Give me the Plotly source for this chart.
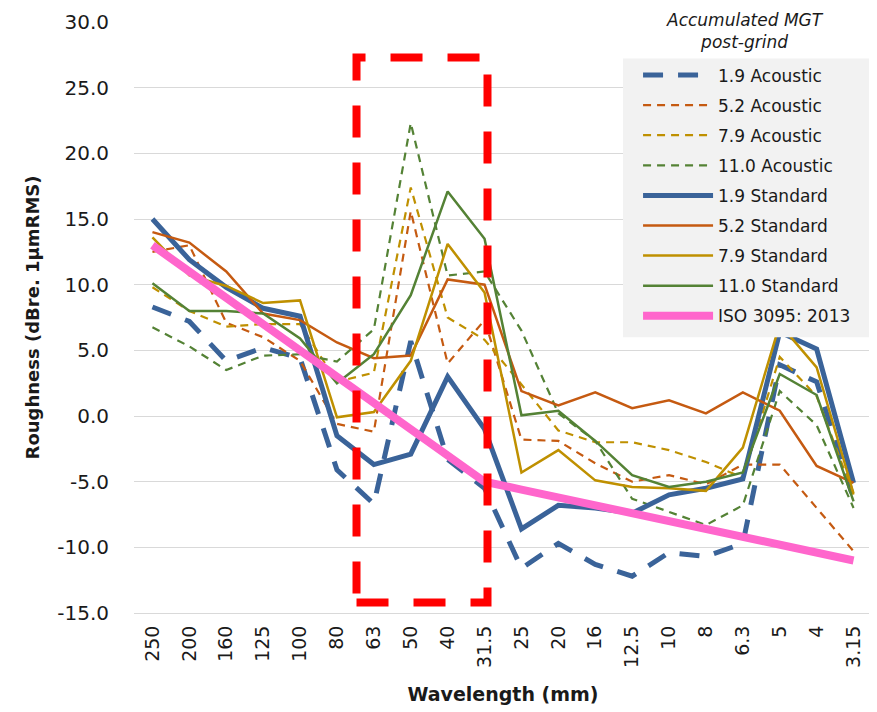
import plotly.graph_objects as go

wavelengths = ["250", "200", "160", "125", "100", "80", "63", "50", "40", "31.5",
               "25", "20", "16", "12.5", "10", "8", "6.3", "5", "4", "3.15"]

acoustic_1_9 = [8.3, 7.2, 4.2, 5.2, 4.4, -4.1, -6.7, 5.7, -3.3, -5.5,
                -11.6, -9.7, -11.3, -12.2, -10.4, -10.7, -9.7, 3.9, 2.6, -6.3]
acoustic_5_2 = [12.5, 13.0, 7.1, 6.0, 4.2, -0.6, -1.2, 15.6, 4.0, 7.3,
                -1.8, -1.9, -3.6, -5.0, -4.5, -5.2, -3.7, -3.7, -7.0, -10.3]
acoustic_7_9 = [9.8, 8.0, 6.8, 7.0, 7.0, 2.6, 3.3, 17.4, 7.5, 5.8,
                2.4, -1.1, -2.0, -2.0, -2.6, -3.5, -4.7, 4.5, 1.5, -6.0]
acoustic_11_0 = [6.75, 5.3, 3.5, 4.6, 4.7, 4.15, 6.6, 22.3, 10.7, 11.0,
                 6.5, 0.2, -1.9, -6.3, -7.3, -8.3, -6.8, 1.9, -0.7, -7.0]
standard_1_9 = [15.0, 11.9, 9.8, 8.2, 7.6, -1.5, -3.7, -2.9, 3.0, -1.0,
                -8.6, -6.8, -7.0, -7.4, -6.0, -5.5, -4.8, 6.4, 5.1, -5.1]
standard_5_2 = [14.0, 13.2, 11.0, 7.8, 7.3, 5.6, 4.4, 4.6, 10.4, 10.0,
                1.9, 0.8, 1.8, 0.6, 1.2, 0.2, 1.8, 0.4, -3.8, -5.1]
standard_7_9 = [13.6, 10.7, 9.9, 8.6, 8.8, -0.1, 0.3, 4.2, 13.1, 9.4,
                -4.3, -2.6, -4.9, -5.4, -5.5, -5.7, -2.4, 7.0, 3.7, -5.9]
standard_11_0 = [10.1, 8.0, 8.0, 7.8, 5.9, 2.5, 4.7, 9.2, 17.1, 13.5,
                 0.05, 0.4, -1.9, -4.5, -5.4, -5.0, -4.3, 3.2, 1.6, -6.5]
iso_3095 = [13.0, 11.0, 9.0, 7.0, 5.0, 3.0, 1.0, -1.0, -3.0, -5.0,
            -5.6, -6.2, -6.8, -7.4, -8.0, -8.6, -9.2, -9.8, -10.4, -11.0]

y_tick_values = [30, 25, 20, 15, 10, 5, 0, -5, -10, -15]
y_tick_labels = ["30.0", "25.0", "20.0", "15.0", "10.0", "5.0", "0.0",
                 "-5.0", "-10.0", "-15.0"]

series_names = ["1.9 Acoustic", "5.2 Acoustic", "7.9 Acoustic", "11.0 Acoustic",
                "1.9 Standard", "5.2 Standard", "7.9 Standard", "11.0 Standard",
                "ISO 3095: 2013"]
series_values = [acoustic_1_9, acoustic_5_2, acoustic_7_9, acoustic_11_0,
                 standard_1_9, standard_5_2, standard_7_9, standard_11_0, iso_3095]

BLUE = "#3A6399"
ORANGE = "#C55A11"
GOLD = "#BF9000"
GREEN = "#548235"
PINK = "#FF66CC"

styles = [
    dict(color=BLUE, width=5, dash="20px,15px"),
    dict(color=ORANGE, width=2.2, dash="8px,6px"),
    dict(color=GOLD, width=2.2, dash="8px,6px"),
    dict(color=GREEN, width=2.2, dash="8px,6px"),
    dict(color=BLUE, width=5),
    dict(color=ORANGE, width=2.5),
    dict(color=GOLD, width=2.5),
    dict(color=GREEN, width=2.5),
    dict(color=PINK, width=8),
]

fig = go.Figure()
for i, (name, vals, st) in enumerate(zip(series_names, series_values, styles)):
    fig.add_trace(go.Scatter(
        x=wavelengths, y=vals, name=name, mode="lines",
        line=st, legendgroup=f"g{i}",
    ))

FONT = "DejaVu Sans"
TXT = "#1a1a1a"

# red dashed highlight box
fig.add_shape(type="rect", xref="x", yref="y",
              x0=5.53, x1=9.08, y0=-14.2, y1=27.3,
              line=dict(color="#FF0000", width=8, dash="32px,25px"),
              fillcolor="rgba(0,0,0,0)", layer="above")

# legend background panel (covers the lines behind it, as in the original)
fig.add_shape(type="rect", xref="paper", yref="paper",
              x0=0.6626, x1=0.9973, y0=0.4666, y1=0.9383,
              line=dict(width=0), fillcolor="#F2F2F2", layer="above")

# legend title
fig.add_annotation(xref="paper", yref="paper", x=0.828, y=0.985,
                   xanchor="center", yanchor="middle",
                   text="<i>Accumulated MGT<br>post-grind</i>",
                   showarrow=False, bgcolor="white", borderpad=4,
                   font=dict(family=FONT, size=17, color=TXT))

# page body has an 8px margin: shrink figure so the plot lands at the right pixels
fig.update_layout(
    width=869, height=704,
    margin=dict(l=126, r=5, t=14, b=99, autoexpand=False),
    paper_bgcolor="white", plot_bgcolor="white",
    font=dict(family=FONT, color=TXT),
    showlegend=True,
    legend=dict(x=0.683, y=0.94, xanchor="left", yanchor="top",
                bgcolor="rgba(0,0,0,0)", font=dict(family=FONT, size=17, color=TXT),
                itemwidth=70, tracegroupgap=5, traceorder="grouped"),
    xaxis=dict(type="category", tickangle=-90, automargin=False,
               tickfont=dict(family=FONT, size=19, color=TXT),
               showgrid=False, showline=True, linecolor="#D9D9D9", linewidth=1,
               ticks="", ticklabelstandoff=4,
               title=dict(text="<b>Wavelength (mm)</b>", standoff=20,
                          font=dict(family=FONT, size=19, color=TXT)),
               range=[-0.5, 19.5]),
    yaxis=dict(range=[-15, 30], tickmode="array", tickvals=y_tick_values,
               ticktext=y_tick_labels, automargin=False,
               tickfont=dict(family=FONT, size=20, color=TXT),
               showgrid=True, gridcolor="#D9D9D9", gridwidth=1.3,
               zeroline=False, showline=False, ticks="", ticklabelstandoff=24,
               title=dict(text="<b>Roughness (dBre. 1µmRMS)</b>", standoff=12,
                          font=dict(family=FONT, size=18, color=TXT))),
)

fig.write_html("out.html")
